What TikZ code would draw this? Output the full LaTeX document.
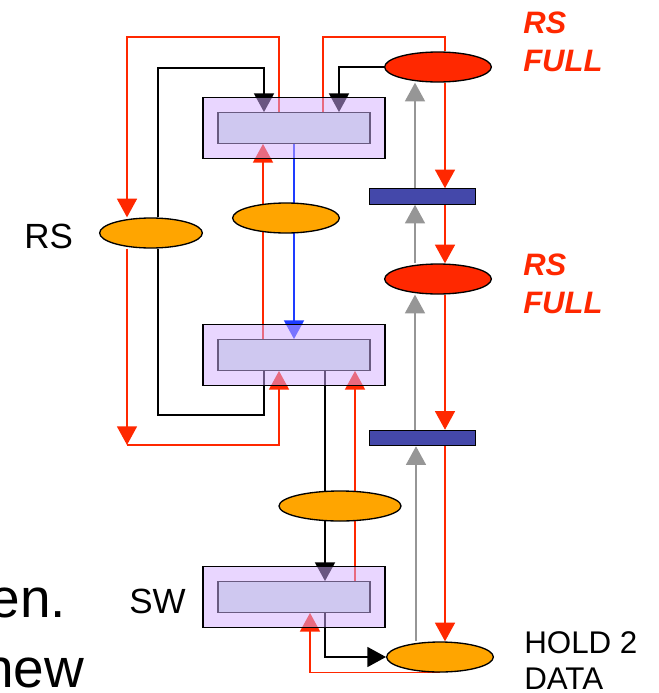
\documentclass[tikz,border=0pt]{standalone}
\usepackage{fontspec}
\setmainfont{Liberation Sans}
\usetikzlibrary{arrows.meta,positioning,shapes.geometric,backgrounds}
\definecolor{rojoRS}{RGB}{255,40,0}
\definecolor{naranjaRS}{RGB}{255,165,0}
\definecolor{lilaCaja}{RGB}{211,173,255}
\definecolor{lilaInt}{RGB}{207,200,240}
\definecolor{bordeInt}{RGB}{105,90,128}
\definecolor{azulBarra}{RGB}{68,72,170}
\definecolor{grisFlecha}{RGB}{150,150,150}
\definecolor{azulLinea}{RGB}{30,60,255}

\begin{document}
\begin{tikzpicture}[
  x = 0.75pt, y = -0.75pt,
  every node/.style = {font=\fontsize{26.25}{30}\selectfont},
  caja/.style    = {rectangle, draw=black, line width=0.9pt,
                    fill=lilaCaja, fill opacity=0.5, inner sep=0pt,
                    minimum width=136.5pt, minimum height=45.75pt},
  interno/.style = {rectangle, draw=bordeInt, line width=0.9pt,
                    fill=lilaInt, inner sep=0pt,
                    minimum width=114pt, minimum height=23pt},
  elipse/.style  = {ellipse, draw=black, line width=1pt, inner sep=0pt,
                    minimum width=80pt, minimum height=22.5pt},
  barra/.style   = {rectangle, draw=black, line width=0.9pt,
                    fill=azulBarra, inner sep=0pt,
                    minimum width=80pt, minimum height=11.5pt},
  txt/.style     = {anchor=base west, inner sep=0pt, align=left},
  full/.style    = {txt, text=rojoRS,
                    font=\fontsize{23.25}{28.5}\selectfont\bfseries\itshape},
  lr/.style  = {draw=rojoRS, line width=1.2pt},
  lk/.style  = {draw=black, line width=1.2pt},
  lg/.style  = {draw=grisFlecha, line width=1.2pt},
  lb/.style  = {draw=azulLinea, line width=1.2pt},
  arr/.style = {-{Triangle[length=14pt,width=15pt]}},
]
\useasboundingbox (0,0) rectangle (659,693);

% ── Cajas ────────────────────────────────────────────────────
\node[caja]    (c1)  at (294,128) {};
\node[interno] (in1) at (294,128) {};
\node[caja]    (c2)  at (294,355) {};
\node[interno] (in2) at (294,355) {};
\node[caja]    (c3)  at (294,597) {};
\node[interno] (in3) at (294,597) {};

% ── Elipses y barras ─────────────────────────────────────────
\node[elipse, fill=naranjaRS, minimum width=77pt]   (rs)   at (151,233) {};
\node[elipse, fill=naranjaRS]                       (om)   at (286,218) {};
\node[elipse, fill=naranjaRS, minimum width=91.5pt] (o3)   at (340,506) {};
\node[elipse, fill=rojoRS]                          (rf1)  at (438,67)  {};
\node[elipse, fill=rojoRS]                          (rf2)  at (438,279) {};
\node[elipse, fill=naranjaRS]                       (hold) at (440,657) {};
\node[barra] (b1) at (422.5,196.5) {};
\node[barra] (b2) at (422.5,438)   {};

% ── Textos ───────────────────────────────────────────────────
\node[txt] (lRS)   at (24,248)  {RS};
\node[txt] (lSW)   at (129,613) {SW};
\node[txt, font=\fontsize{23.5}{27}\selectfont] (lHold) at (524,689) {HOLD 2\\DATA};
\node[full] (lFull1) at (523,71)  {RS\\FULL};
\node[full] (lFull2) at (523,313) {RS\\FULL};
\node[txt, font=\fontsize{41.25}{52}\selectfont] (lEn)  at (-10.6,617) {en.};
\node[txt, font=\fontsize{41.25}{52}\selectfont] (lNew) at (-17,687)   {new};

\begin{scope}[on background layer]
% ── Lazo RS (izquierda) ──────────────────────────────────────
\draw[lr, arr] (279,0 |- in1.north) |- (127,37) -- (127,0 |- rs.north);
\coordinate (esq) at (127,445);
\draw[lr, arr] (127,0 |- rs.south) -- (esq);
\draw[lr, arr] (esq) -| (279,0 |- in2.south);
\draw[lk] (264,0 |- in2.south) |- (158,415) -- (158,0 |- rs.south);
\draw[lk, arr] (158,0 |- rs.north) |- (264,68) -- (264,0 |- in1.north);

% ── Centro ───────────────────────────────────────────────────
\draw[lr, arr] (263,0 |- in2.north) -- (263,0 |- in1.south);
\draw[lb, arr] (in1) -- (in2);
\draw[lk, arr] (325,0 |- in2.south) -- (325,0 |- in3.north);
\draw[lr, arr] (355,0 |- in3.north) -- (355,0 |- in2.south);
\draw[lk, arr] (325,0 |- in3.south) |- (hold.west);
\draw[lr, arr] (hold.south) -| (310,0 |- in3.south);

% ── Columna RS FULL (derecha) ────────────────────────────────
\draw[lk, arr] (rf1.west) -| (339,0 |- in1.north);
\draw[lr] (323,0 |- in1.north) |- (445,37) -- (445,0 |- rf1.north);
\draw[lr, arr] (445,0 |- rf1.south) -- (445,0 |- b1.north);
\draw[lr, arr] (445,0 |- b1.south)  -- (445,0 |- rf2.north);
\draw[lr, arr] (445,0 |- rf2.south) -- (445,0 |- b2.north);
\draw[lr, arr] (445,0 |- b2.south)  -- (445,0 |- hold.north);
\draw[lg, arr] (415,0 |- b1.north)   -- (415,0 |- rf1.south);
\draw[lg, arr] (415,0 |- rf2.north)  -- (415,0 |- b1.south);
\draw[lg, arr] (415,0 |- b2.north)   -- (415,0 |- rf2.south);
\draw[lg, arr] (416,0 |- hold.north) -- (416,0 |- b2.south);
\end{scope}

\end{tikzpicture}
\end{document}
